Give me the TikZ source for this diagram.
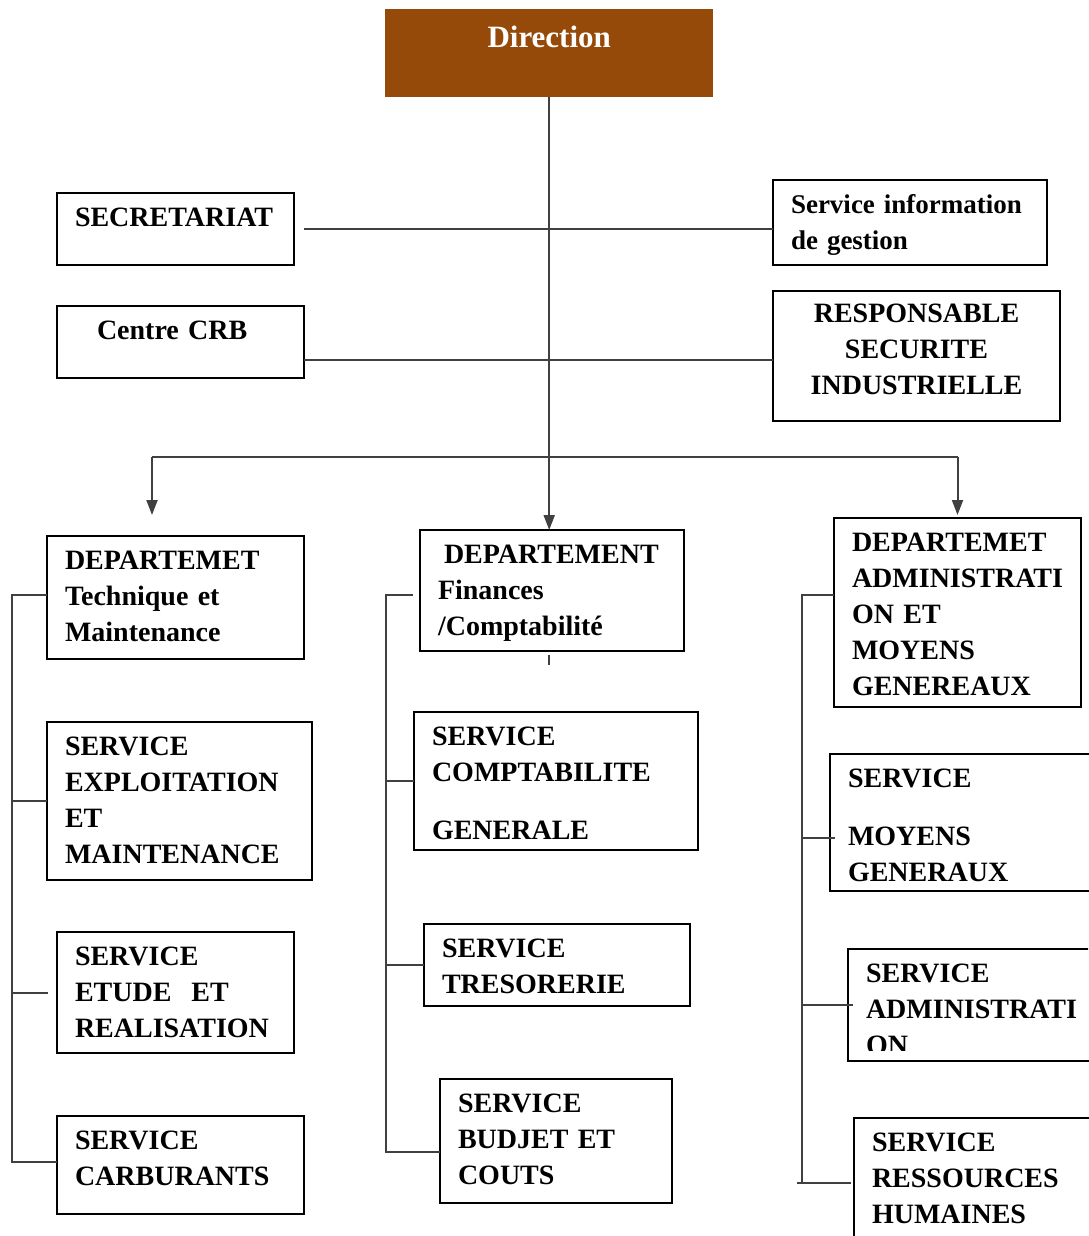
\documentclass[tikz,border=0pt]{standalone}
\usepackage{fontspec}
\setmainfont{Liberation Serif}
\usetikzlibrary{arrows.meta}
\hyphenpenalty=10000
\definecolor{dirbrown}{RGB}{150,74,9}
\tikzset{
  box/.style 2 args={draw, line width=1.6pt, anchor=north west, outer sep=0pt,
    inner xsep=18pt, inner ysep=0pt, align=left,
    text height=33pt, text width=#1, text depth=#2,
    font=\bfseries\fontsize{28}{36}\selectfont},
  link/.style={draw=black!75, line width=2pt},
  arr/.style={link, -{Triangle[length=15pt,width=11pt]}},
}
\begin{document}
\begin{tikzpicture}[x=1pt, y=-1pt]
  \useasboundingbox (0,0) rectangle (1088,1236);
  % top
  \node[fill=dirbrown, text=white, anchor=north west, inner xsep=18pt,
    inner ysep=0pt, align=center, text width=292pt, text height=38pt,
    text depth=50pt, font=\bfseries\fontsize{31}{36}\selectfont]
    (dir) at (385,9) {Direction};
  \node[box={201pt}{39pt}] (sec) at (57,193) {SECRETARIAT};
  \node[box={238pt}{52pt}, font=\bfseries\fontsize{27}{36}\selectfont] (sig) at (773,180)
    {Service information\\de gestion};
  \node[box={167pt}{39pt}, inner xsep=40pt] (crb) at (57,306) {Centre CRB};
  \node[box={251pt}{99pt}, align=center, text height=31pt] (rsi) at (773,291)
    {RESPONSABLE\\SECURITE\\INDUSTRIELLE};
  % left column
  \node[box={221pt}{90pt}] (dtm) at (47,536) {DEPARTEMET\\Technique et\\Maintenance};
  \node[box={229pt}{125pt}] (sem) at (47,722) {SERVICE\\EXPLOITATION\\ET\\MAINTENANCE};
  \node[box={201pt}{88pt}] (ser) at (57,932) {SERVICE\\ETUDE\hspace{20pt}ET\\REALISATION};
  \node[box={211pt}{65pt}] (sca) at (57,1116) {SERVICE\\CARBURANTS};
  % middle column
  \node[box={228pt}{88pt}] (dfc) at (420,530) {\hspace*{6pt}DEPARTEMENT\\Finances\\/Comptabilité};
  \node[box={248pt}{105pt}] (scg) at (414,712) {SERVICE\\COMPTABILITE\\[22pt]GENERALE};
  \node[box={230pt}{49pt}] (str) at (424,924) {SERVICE\\TRESORERIE};
  \node[box={196pt}{91pt}] (sbc) at (440,1079) {SERVICE\\BUDJET ET\\COUTS};
  % right column
  \node[box={211pt}{156pt}] (dam) at (834,518) {DEPARTEMET\\ADMINISTRATI\\ON ET\\MOYENS\\GENEREAUX};
  \node[box={264pt}{104pt}] (smg) at (830,754) {SERVICE\\[22pt]MOYENS\\GENERAUX};
  \begin{scope}
    \clip (0,0) rectangle (1088,1050);
    \node[box={264pt}{79pt}] (sad) at (848,949) {SERVICE\\ADMINISTRATI\\ON};
  \end{scope}
  \draw[line width=1.6pt] ([yshift=14pt]sad.south west) -- (sad.south west) -- (sad.south east);
  \node[box={264pt}{117pt}] (srh) at (854,1118) {SERVICE\\RESSOURCES\\HUMAINES};

  % links
  \draw[arr] (dir.south) -- (dir.south |- dfc.north);
  \draw[link] ([xshift=10pt]sec.east) -- (sec.east -| sig.west);
  \draw[link] ([yshift=-18pt]crb.east) -- ([yshift=-18pt]crb.east -| rsi.west);
  \coordinate (bl) at (152,457);
  \coordinate (br) at (dam.north |- bl);
  \coordinate (tl) at (152,515);
  \draw[link] (bl) -- (br);
  \draw[arr] (bl) -- (tl);
  \draw[arr] (br) -- ([yshift=3pt]dam.north);

  \coordinate (lt) at (12,595);
  \coordinate (lb) at (12,1162);
  \coordinate (le) at (48,993);
  \draw[link] (dtm.west |- lt) -- (lt) -- (lb) -- (lb -| sca.west);
  \draw[link] (sem.west) -- (sem.west -| lt);
  \draw[link] (le) -- (le -| lt);

  \coordinate (mt) at (386,595);
  \coordinate (mb) at (386,1152);
  \coordinate (me) at (413,595);
  \draw[link] (me) -- (mt) -- (mb) -- (mb -| sbc.west);
  \draw[link] (scg.west) -- (scg.west -| mt);
  \draw[link] (str.west) -- (str.west -| mt);
  \draw[link] (dir.south |- dfc.south) ++(0,4) -- ++(0,10);

  \coordinate (rt) at (802,595);
  \coordinate (rb) at (802,1183);
  \coordinate (rm) at (835,838);
  \coordinate (rs) at (797,1183);
  \coordinate (re) at (851,1183);
  \draw[link] (dam.west |- rt) -- (rt) -- (rb);
  \draw[link] (rm -| rt) -- (rm);
  \draw[link] (sad.west -| rt) -- ([xshift=5pt]sad.west);
  \draw[link] (rs) -- (re);
\end{tikzpicture}
\end{document}
